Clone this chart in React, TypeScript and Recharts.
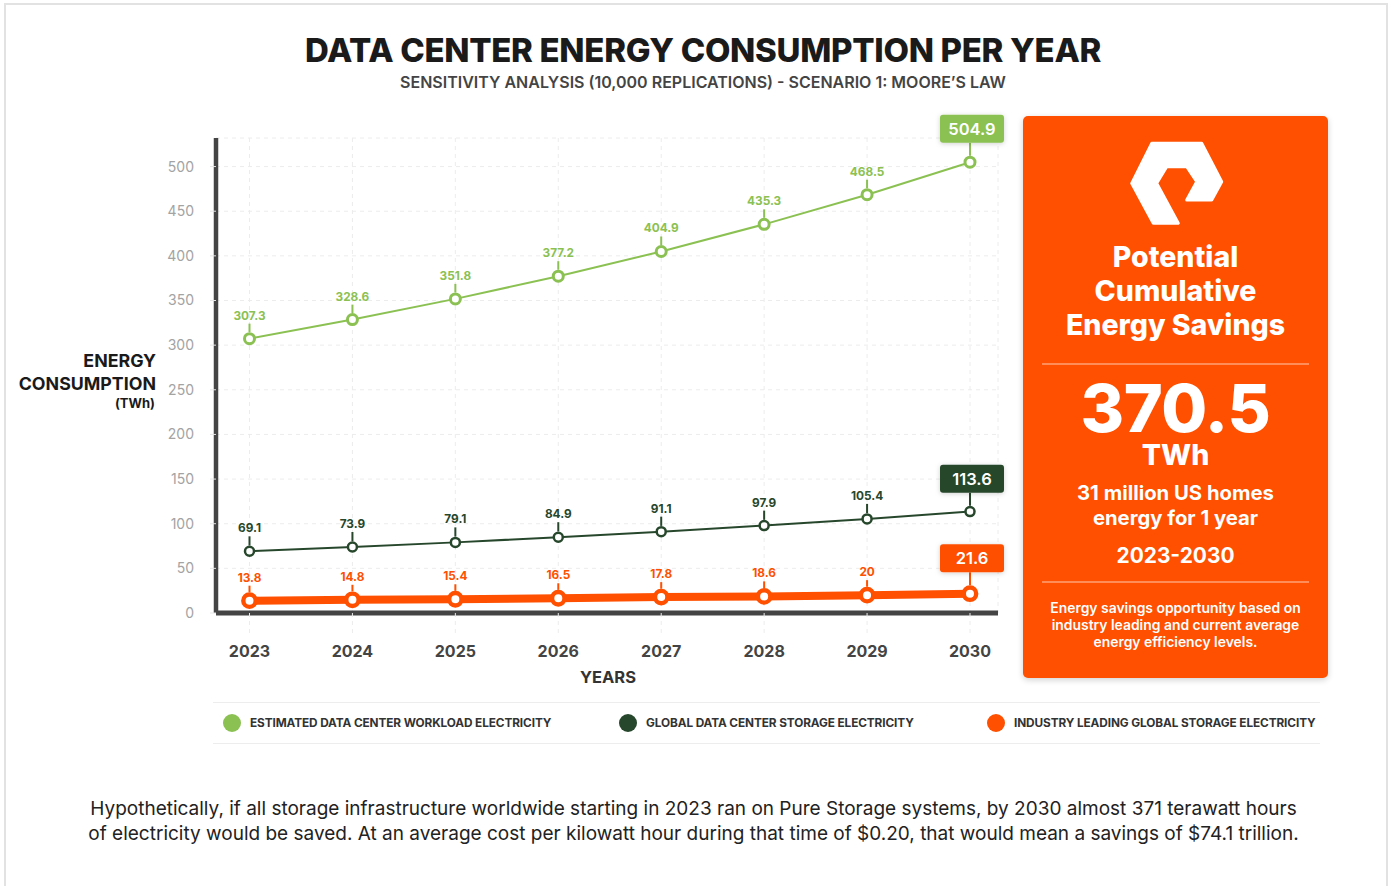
import { LineChart, Line, XAxis, YAxis, CartesianGrid, LabelList } from "recharts";

const years = ["2023", "2024", "2025", "2026", "2027", "2028", "2029", "2030"];
const workload = [307.3, 328.6, 351.8, 377.2, 404.9, 435.3, 468.5, 504.9];
const storage = [69.1, 73.9, 79.1, 84.9, 91.1, 97.9, 105.4, 113.6];
const leading = [13.8, 14.8, 15.4, 16.5, 17.8, 18.6, 20, 21.6];
const yTicks = [0, 50, 100, 150, 200, 250, 300, 350, 400, 450, 500];

const series = [
  { key: "workload", name: "ESTIMATED DATA CENTER WORKLOAD ELECTRICITY", color: "#8bc152", width: 2, r: 5, dotWidth: 3 },
  { key: "storage", name: "GLOBAL DATA CENTER STORAGE ELECTRICITY", color: "#27472c", width: 2, r: 4.5, dotWidth: 2.5 },
  { key: "leading", name: "INDUSTRY LEADING GLOBAL STORAGE ELECTRICITY", color: "#fe5000", width: 8, r: 6.2, dotWidth: 4.4 },
];

const data = years.map((year, i) => ({
  year,
  workload: workload[i],
  storage: storage[i],
  leading: leading[i],
}));

// legend circle centres (layout only)
const legendX = [232, 628, 996];

const FONT = "Inter, 'Noto Sans', sans-serif";

function makeLabel(s: (typeof series)[number]) {
  return (props: any) => {
    const x = props.x ?? props.viewBox?.x;
    const y = props.y ?? props.viewBox?.y;
    const { value, index } = props;
    const outer = s.r + s.dotWidth / 2;
    if (index === years.length - 1) {
      const bottom = y - outer - 13;
      return (
        <g>
          <line x1={x} x2={x} y1={y - outer} y2={bottom} stroke={s.color} strokeWidth={2} />
          <rect x={x + 2 - 32} y={bottom - 28} width={64} height={28} rx={3} fill={s.color} filter="url(#boxShadow)" />
          <text x={x + 2} y={bottom - 14} dy="0.36em" textAnchor="middle" fill="#fff" fontSize={16.5} fontWeight={600} fontFamily={FONT}>
            {value}
          </text>
        </g>
      );
    }
    return (
      <g>
        <line x1={x} x2={x} y1={y - outer} y2={y - 15} stroke={s.color} strokeWidth={2} />
        <text x={x} y={y - 19} textAnchor="middle" fill={s.color} fontSize={11.8} fontWeight={700} fontFamily={FONT}>
          {value}
        </text>
      </g>
    );
  };
}

const YearTick = (props: any) => {
  const { x, y, payload } = props;
  return (
    <text x={x} y={y + 24} textAnchor="middle" fill="#444" fontSize={16} fontWeight={700} fontFamily={FONT}>
      {payload.value}
    </text>
  );
};

export default function App() {
  return (
    <div
      style={{
        position: "absolute",
        left: 0,
        top: 0,
        width: 1392,
        height: 886,
        background: "#fff",
        fontFamily: FONT,
        overflow: "hidden",
      }}
    >
      <div style={{ position: "absolute", left: 4, top: 3, width: 1384, height: 900, border: "2px solid #e2e2e2", boxSizing: "border-box" }} />

      <div style={{ position: "absolute", left: 0, width: 1406, top: 30, textAlign: "center", fontSize: 33, fontWeight: 800, color: "#1a1a1a", lineHeight: "40px", letterSpacing: -0.3 }}>
        DATA CENTER ENERGY CONSUMPTION PER YEAR
      </div>
      <div style={{ position: "absolute", left: 0, width: 1406, top: 72, textAlign: "center", fontSize: 16, fontWeight: 600, color: "#444", lineHeight: "20px" }}>
        SENSITIVITY ANALYSIS (10,000 REPLICATIONS) - SCENARIO 1: MOORE’S LAW
      </div>

      <div style={{ position: "absolute", left: 0, top: 0 }}>
        <LineChart width={1020} height={700} data={data} margin={{ top: 138, right: 22, bottom: 57, left: 156 }}>
          <defs>
            <filter id="boxShadow" x="-30%" y="-40%" width="160%" height="190%">
              <feDropShadow dx="0" dy="1" stdDeviation="2.5" floodColor="#000" floodOpacity="0.18" />
            </filter>
          </defs>
          <CartesianGrid stroke="#ececec" strokeDasharray="4 4" />
          <XAxis
            dataKey="year"
            padding={{ left: 33.5, right: 28 }}
            tickSize={20}
            tickMargin={0}
            tickLine={{ stroke: "#ececec", strokeDasharray: "4 4" }}
            axisLine={{ stroke: "#444", strokeWidth: 5 }}
            tick={<YearTick />}
            height={30}
          />
          <YAxis
            domain={[0, 532]}
            ticks={yTicks}
            width={60}
            tickSize={6}
            tickMargin={16}
            tickLine={{ stroke: "#e6e6e6" }}
            axisLine={{ stroke: "#444", strokeWidth: 4.5 }}
            tick={{ fill: "#a3a3a3", fontSize: 14, fontFamily: FONT }}
          />
          {series.map((s) => (
            <Line
              key={s.key}
              type="linear"
              dataKey={s.key}
              stroke={s.color}
              strokeWidth={s.width}
              dot={{ r: s.r, fill: "#fff", stroke: s.color, strokeWidth: s.dotWidth }}
              activeDot={false}
              isAnimationActive={false}
            >
              <LabelList dataKey={s.key} content={makeLabel(s)} />
            </Line>
          ))}
        </LineChart>
      </div>

      <div style={{ position: "absolute", right: 1392 - 156, top: 349, textAlign: "right", fontWeight: 700, color: "#1a1a1a", fontSize: 17.8, lineHeight: "23px" }}>
        ENERGY
        <br />
        CONSUMPTION
      </div>
      <div style={{ position: "absolute", right: 1392 - 155, top: 395, textAlign: "right", fontWeight: 700, color: "#1a1a1a", fontSize: 13, lineHeight: "17px" }}>
        (TWh)
      </div>
      <div style={{ position: "absolute", left: 558, width: 100, top: 666, textAlign: "center", fontWeight: 700, color: "#333", fontSize: 16.5, lineHeight: "22px" }}>
        YEARS
      </div>

      {/* legend */}
      <div style={{ position: "absolute", left: 213, top: 702, width: 1107, height: 42, borderTop: "1.5px solid #ededed", borderBottom: "1.5px solid #ededed", boxSizing: "border-box" }}>
        {series.map((s, i) => (
          <div key={s.key} style={{ position: "absolute", left: legendX[i] - 213 - 9, top: 11, height: 18, display: "flex", alignItems: "center" }}>
            <span style={{ width: 18, height: 18, borderRadius: 9, background: s.color, display: "inline-block" }} />
            <span style={{ marginLeft: 9, fontSize: 11.8, fontWeight: 700, color: "#333", letterSpacing: -0.1 }}>{s.name}</span>
          </div>
        ))}
      </div>

      {/* savings panel */}
      <div
        style={{
          position: "absolute",
          left: 1023,
          top: 116,
          width: 305,
          height: 562,
          background: "#fe5000",
          borderRadius: 5,
          boxShadow: "0 2px 6px rgba(0,0,0,0.18)",
          color: "#fff",
          textAlign: "center",
        }}
      >
        <svg width={305} height={120} style={{ position: "absolute", left: 0, top: 0 }}>
          <path
            transform="translate(-1023,-116)"
            d="M1151.7,143.3 L1201.7,143.3 L1221.7,181.7 L1211.7,200 L1186.7,200 L1196.7,181.7 L1186.7,166.7 L1166.7,166.7 L1156.7,183.3 L1178.3,223.3 L1153.3,223.3 L1131.7,183.3 Z"
            fill="#fff"
            stroke="#fff"
            strokeWidth={3}
            strokeLinejoin="round"
          />
        </svg>
        <div style={{ position: "absolute", left: 0, width: 305, top: 124, fontSize: 28.5, fontWeight: 800, lineHeight: "34px" }}>
          Potential
          <br />
          Cumulative
          <br />
          Energy Savings
        </div>
        <div style={{ position: "absolute", left: 19, width: 267, top: 247, height: 1.5, background: "rgba(255,255,255,0.35)" }} />
        <div style={{ position: "absolute", left: 0, width: 305, top: 262, fontWeight: 800 }}>
          <div style={{ fontSize: 66.5, lineHeight: "60px", letterSpacing: -0.5 }}>370.5</div>
          <div style={{ fontSize: 28.5, lineHeight: "30px", marginTop: 2 }}>TWh</div>
        </div>
        <div style={{ position: "absolute", left: 0, width: 305, top: 364, fontSize: 20.3, fontWeight: 700, lineHeight: "25px" }}>
          31 million US homes
          <br />
          energy for 1 year
        </div>
        <div style={{ position: "absolute", left: 0, width: 305, top: 427, fontSize: 20.9, fontWeight: 700, lineHeight: "26px" }}>2023-2030</div>
        <div style={{ position: "absolute", left: 19, width: 267, top: 465, height: 1.5, background: "rgba(255,255,255,0.35)" }} />
        <div style={{ position: "absolute", left: 0, width: 305, top: 484, fontSize: 13.9, fontWeight: 600, lineHeight: "17px" }}>
          Energy savings opportunity based on
          <br />
          industry leading and current average
          <br />
          energy efficiency levels.
        </div>
      </div>

      <div style={{ position: "absolute", left: 0, width: 1387, top: 796, textAlign: "center", fontSize: 19, fontWeight: 400, color: "#222", lineHeight: "25px" }}>
        Hypothetically, if all storage infrastructure worldwide starting in 2023 ran on Pure Storage systems, by 2030 almost 371 terawatt hours
        <br />
        of electricity would be saved. At an average cost per kilowatt hour during that time of $0.20, that would mean a savings of $74.1 trillion.
      </div>
    </div>
  );
}
